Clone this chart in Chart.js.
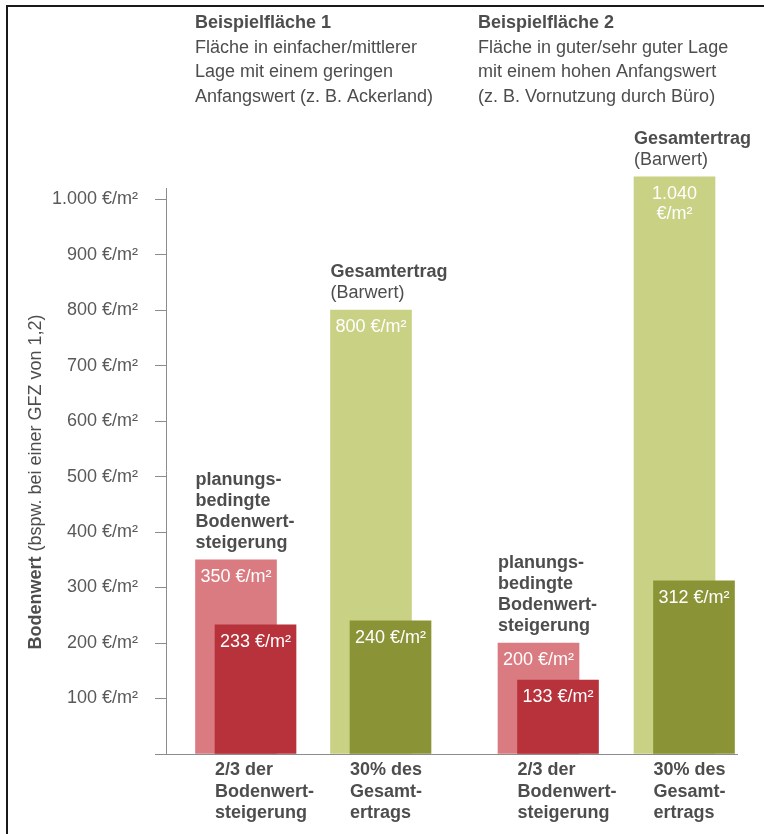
<!DOCTYPE html>
<html lang="de">
<head>
<meta charset="utf-8">
<title>Bodenwert</title>
<script src="https://cdn.jsdelivr.net/npm/chart.js@4/dist/chart.umd.min.js"></script>
<style>
  html, body { margin: 0; padding: 0; background: #fff; }
  #wrap { position: relative; width: 764px; height: 834px; overflow: hidden; }
  #rahmen { position: absolute; left: 6px; top: 5px; width: 800px; height: 900px;
            border-left: 2px solid #1a1a1a; border-top: 2px solid #1a1a1a; pointer-events: none; }
</style>
</head>
<body>
<div id="wrap">
  <canvas id="chart" width="764" height="834"></canvas>
  <div id="rahmen"></div>
</div>
<script>
// Daten
var beispiele = ['Beispielfläche 1', 'Beispielfläche 2'];
var beschreibung = [
  ['Fläche in einfacher/mittlerer', 'Lage mit einem geringen', 'Anfangswert (z. B. Ackerland)'],
  ['Fläche in guter/sehr guter Lage', 'mit einem hohen Anfangswert', '(z. B. Vornutzung durch Büro)']
];
var bodenwertsteigerung = [350, 200];   // planungsbedingte Bodenwertsteigerung
var anteilSteigerung = [233, 133];      // 2/3 der Bodenwertsteigerung
var gesamtertrag = [800, 1040];         // Gesamtertrag (Barwert)
var anteilErtrag = [240, 312];          // 30% des Gesamtertrags
var xLabels = [
  ['2/3 der', 'Bodenwert-', 'steigerung'],
  ['30% des', 'Gesamt-', 'ertrags'],
  ['2/3 der', 'Bodenwert-', 'steigerung'],
  ['30% des', 'Gesamt-', 'ertrags']
];
var yTicks = [0, 100, 200, 300, 400, 500, 600, 700, 800, 900, 1000];
var steigerungLabel = ['planungs-', 'bedingte', 'Bodenwert-', 'steigerung'];
var ertragLabel = ['Gesamtertrag', '(Barwert)'];
var yTitelFett = 'Bodenwert';
var yTitelRest = ' (bspw. bei einer GFZ von 1,2)';

// Layout
var X_MAX = 571;
var POS_STEIG = [70, 372.5];
var POS_ERTRAG = [205, 508.5];
var VERSATZ = 19.5;
var BAR_W = 81;
var KOPF_X = [195, 478];

var FONT = '"Liberation Sans", Arial, sans-serif';
var GRAU = '#4d4d4d';

function tausender(v) {
  return String(v).replace(/\B(?=(\d{3})+(?!\d))/g, '.');
}

function punkte(werte, pos, versatz) {
  return werte.map(function(v, i) { return { x: pos[i] + versatz, y: v }; });
}

var beschriftung = {
  id: 'beschriftung',
  afterDatasetsDraw: function(chart) {
    var ctx = chart.ctx;
    ctx.save();
    ctx.textBaseline = 'middle';

    // Kopftexte
    ctx.fillStyle = GRAU;
    ctx.textAlign = 'left';
    beispiele.forEach(function(t, g) {
      ctx.font = 'bold 18px ' + FONT;
      ctx.fillText(t, KOPF_X[g], 23);
      ctx.font = '18px ' + FONT;
      beschreibung[g].forEach(function(z, k) { ctx.fillText(z, KOPF_X[g], 48 + k * 24.5); });
    });

    // Texte ueber den hellen Balken
    var mSteig = chart.getDatasetMeta(2), mErtrag = chart.getDatasetMeta(3);
    mSteig.data.forEach(function(b) {
      var left = b.x - b.width / 2;
      ctx.font = 'bold 18px ' + FONT;
      steigerungLabel.forEach(function(z, k) {
        ctx.fillText(z, left, b.y - 17 - (steigerungLabel.length - 1 - k) * 21);
      });
    });
    mErtrag.data.forEach(function(b) {
      var left = b.x - b.width / 2;
      ctx.font = 'bold 18px ' + FONT;
      ctx.fillText(ertragLabel[0], left, b.y - 38);
      ctx.font = '18px ' + FONT;
      ctx.fillText(ertragLabel[1], left, b.y - 17);
    });

    // Werte in den Balken
    ctx.fillStyle = '#ffffff';
    ctx.textAlign = 'center';
    ctx.font = '18px ' + FONT;
    chart.data.datasets.forEach(function(ds, i) {
      chart.getDatasetMeta(i).data.forEach(function(b, j) {
        var txt = tausender(ds.data[j].y) + ' €/m²';
        if (ctx.measureText(txt).width > b.width - 4) {
          var teile = txt.split(' ');
          ctx.fillText(teile[0], b.x, b.y + 17);
          ctx.fillText(teile.slice(1).join(' '), b.x, b.y + 37);
        } else {
          ctx.fillText(txt, b.x, b.y + 17);
        }
      });
    });

    // Achsentitel y
    ctx.translate(36, 482);
    ctx.rotate(-Math.PI / 2);
    ctx.fillStyle = GRAU;
    ctx.textAlign = 'left';
    ctx.font = 'bold 18px ' + FONT;
    var w1 = ctx.measureText(yTitelFett).width;
    ctx.font = '18px ' + FONT;
    var w2 = ctx.measureText(yTitelRest).width;
    var start = -(w1 + w2) / 2;
    ctx.font = 'bold 18px ' + FONT;
    ctx.fillText(yTitelFett, start, 0);
    ctx.font = '18px ' + FONT;
    ctx.fillText(yTitelRest, start + w1, 0);
    ctx.restore();
  }
};

new Chart(document.getElementById('chart'), {
  type: 'bar',
  data: {
    datasets: [
      { label: '2/3 der Bodenwertsteigerung', data: punkte(anteilSteigerung, POS_STEIG, VERSATZ), backgroundColor: '#b7323a' },
      { label: '30% des Gesamtertrags', data: punkte(anteilErtrag, POS_ERTRAG, VERSATZ), backgroundColor: '#8a9436' },
      { label: 'planungsbedingte Bodenwertsteigerung', data: punkte(bodenwertsteigerung, POS_STEIG, 0), backgroundColor: '#d97b81' },
      { label: 'Gesamtertrag (Barwert)', data: punkte(gesamtertrag, POS_ERTRAG, 0), backgroundColor: '#c9d184' }
    ]
  },
  options: {
    responsive: false,
    animation: false,
    devicePixelRatio: 1,
    layout: { padding: { top: 188, right: 27, left: 0, bottom: 0 } },
    datasets: { bar: { grouped: false, barThickness: BAR_W, clip: false, borderWidth: 0 } },
    plugins: { legend: { display: false }, tooltip: { enabled: false } },
    scales: {
      x: {
        type: 'linear',
        min: 0,
        max: X_MAX,
        offset: false,
        grid: { display: false, drawTicks: false },
        border: { display: true, color: '#8c8c8c', width: 1 },
        afterFit: function(s) { s.height = 80; },
        afterBuildTicks: function(s) {
          var werte = [POS_STEIG[0], POS_ERTRAG[0], POS_STEIG[1], POS_ERTRAG[1]];
          s.ticks = werte.map(function(p) { return { value: p + VERSATZ - BAR_W / 2 }; });
        },
        ticks: {
          align: 'start',
          autoSkip: false,
          maxRotation: 0,
          padding: 6,
          color: GRAU,
          font: { family: FONT, size: 18, weight: 'bold', lineHeight: 1.17 },
          callback: function(v, i) { return xLabels[i]; }
        }
      },
      y: {
        min: 0,
        max: 1020,
        grid: { display: true, drawOnChartArea: false, tickLength: 11, color: '#8c8c8c' },
        border: { display: true, color: '#8c8c8c', width: 1 },
        afterFit: function(s) { s.width = 166; },
        afterBuildTicks: function(s) { s.ticks = yTicks.map(function(v) { return { value: v }; }); },
        ticks: {
          padding: 17,
          color: '#595959',
          font: { family: FONT, size: 18 },
          callback: function(v) { return v === 0 ? '' : tausender(v) + ' €/m²'; }
        }
      }
    }
  },
  plugins: [beschriftung]
});
</script>
</body>
</html>
